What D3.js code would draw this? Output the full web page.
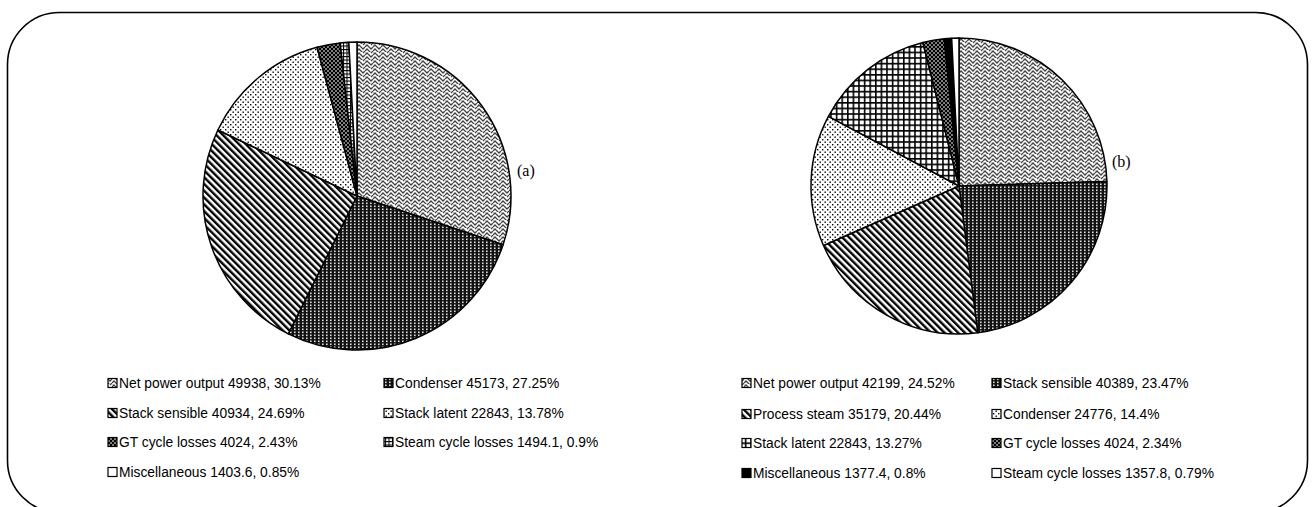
<!DOCTYPE html>
<html><head><meta charset="utf-8">
<script src="https://cdn.jsdelivr.net/npm/d3@7"></script>
<style>body{margin:0;background:#fff}svg{display:block}</style>
</head><body>
<svg id="c" width="1312" height="507"></svg>
<script>
// ---- Data ----
const labelsA = ["Net power output","Condenser","Stack sensible","Stack latent","GT cycle losses","Steam cycle losses","Miscellaneous"];
const valuesA = [49938,45173,40934,22843,4024,1494.1,1403.6];
const pctA    = ["30.13%","27.25%","24.69%","13.78%","2.43%","0.9%","0.85%"];
const patA    = ["wave","darkgrid","diag","dots","darkdots","smallgrid","white"];

const labelsB = ["Net power output","Stack sensible","Process steam","Condenser","Stack latent","GT cycle losses","Miscellaneous","Steam cycle losses"];
const valuesB = [42199,40389,35179,24776,22843,4024,1377.4,1357.8];
const pctB    = ["24.52%","23.47%","20.44%","14.4%","13.27%","2.34%","0.8%","0.79%"];
const patB    = ["wave","darkgrid","diag","dots","crossgrid","darkdots","black","white"];

const svg = d3.select("#c");
const defs = svg.append("defs");

function pat(id, w, h, build, transform){
  const p = defs.append("pattern").attr("id", id).attr("patternUnits","userSpaceOnUse")
    .attr("width", w).attr("height", h);
  if (transform) p.attr("patternTransform", transform);
  build(p);
}
pat("wave", 8, 8, p => {
  p.append("rect").attr("width",8).attr("height",8).attr("fill","#fff");
  p.append("path").attr("d","M0,3 L2,1 L4,3 L6,5 L8,3 M0,7 L2,5 L4,7 L6,9 L8,7 M-2,-1 L0,1 M6,1 L8,-1")
    .attr("fill","none").attr("stroke","#444").attr("stroke-width",1.3);
});
pat("darkgrid", 4, 3, p => {
  p.append("rect").attr("width",4).attr("height",3).attr("fill","#111");
  p.append("rect").attr("x",1).attr("y",0.5).attr("width",1.6).attr("height",1.6).attr("fill","#ddd");
});
pat("diag", 4.8, 4.8, p => {
  p.append("rect").attr("width",4.8).attr("height",4.8).attr("fill","#fff");
  p.append("rect").attr("width",2.4).attr("height",4.8).attr("fill","#000");
}, "rotate(-45)");
pat("dots", 5, 5, p => {
  p.append("rect").attr("width",5).attr("height",5).attr("fill","#fff");
  p.append("rect").attr("x",0.5).attr("y",0.5).attr("width",1.4).attr("height",1.4).attr("fill","#000");
  p.append("rect").attr("x",3).attr("y",3).attr("width",1.4).attr("height",1.4).attr("fill","#000");
});
pat("darkdots", 4, 4, p => {
  p.append("rect").attr("width",4).attr("height",4).attr("fill","#000");
  p.append("rect").attr("x",0.3).attr("y",0.3).attr("width",1.4).attr("height",1.4).attr("fill","#fff");
  p.append("rect").attr("x",2.3).attr("y",2.3).attr("width",1.4).attr("height",1.4).attr("fill","#fff");
});
pat("smallgrid", 3.5, 3.5, p => {
  p.append("rect").attr("width",3.5).attr("height",3.5).attr("fill","#fff");
  p.append("path").attr("d","M0,0.5 H3.5 M0.5,0 V3.5").attr("stroke","#000").attr("stroke-width",1);
});
pat("crossgrid", 5.6, 5.6, p => {
  p.append("rect").attr("width",5.6).attr("height",5.6).attr("fill","#fff");
  p.append("path").attr("d","M0,0.8 H5.6 M0.8,0 V5.6").attr("stroke","#000").attr("stroke-width",1.6);
});
const fillOf = k => k === "white" ? "#fff" : k === "black" ? "#000" : `url(#${k})`;

// ---- Frame ----
svg.append("rect").attr("x",7.5).attr("y",12.5).attr("width",1300).attr("height",500)
  .attr("rx",52).attr("ry",52).attr("fill","none").attr("stroke","#000").attr("stroke-width",1.6);

function drawPie(values, pats, cx, cy, r){
  const pie = d3.pie().sort(null).value(d => d)(values);
  const arc = d3.arc().innerRadius(0).outerRadius(r);
  const g = svg.append("g").attr("transform", `translate(${cx},${cy})`);
  g.selectAll("path").data(pie).join("path")
    .attr("d", arc).attr("fill", (d,i) => fillOf(pats[i]))
    .attr("stroke","#000").attr("stroke-width",1.5).attr("stroke-linejoin","round");
}
drawPie(valuesA, patA, 357, 196, 154);
drawPie(valuesB, patB, 959, 186, 148);

svg.append("text").attr("x",517).attr("y",176).attr("font-family","Liberation Serif")
  .attr("font-size",16).text("(a)");
svg.append("text").attr("x",1112).attr("y",167).attr("font-family","Liberation Serif")
  .attr("font-size",16).text("(b)");

function drawLegend(labels, values, pcts, pats, colX, rowY, textGap){
  const g = svg.append("g");
  labels.forEach((lab, i) => {
    const x = colX[i % 2], y = rowY[Math.floor(i / 2)];
    g.append("rect").attr("x", x).attr("y", y - 4.5).attr("width", 9).attr("height", 9)
      .attr("fill", fillOf(pats[i])).attr("stroke","#000").attr("stroke-width",1.2);
    g.append("text").attr("x", x + textGap).attr("y", y).attr("dy","0.36em")
      .attr("font-family","Liberation Sans").attr("font-size",13.8).attr("fill","#000")
      .text(`${lab} ${values[i]}, ${pcts[i]}`);
  });
}
drawLegend(labelsA, valuesA, pctA, patA, [108, 384], [383, 413, 442, 472], 11);
drawLegend(labelsB, valuesB, pctB, patB, [742, 992], [383, 414, 443, 473], 11);
</script>
</body></html>
